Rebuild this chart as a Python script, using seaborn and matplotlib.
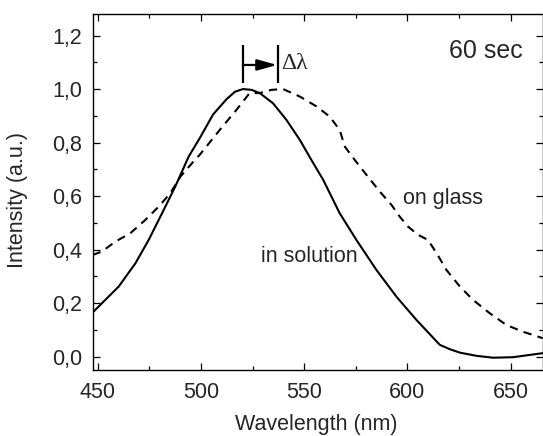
import pandas as pd
import matplotlib
matplotlib.use("Agg")
import matplotlib.pyplot as plt
import seaborn as sns
from matplotlib.ticker import MultipleLocator, FuncFormatter

# === Data ===
sol_wl = [447.2, 452.9, 460.2, 468.3, 474.7, 481.2, 487.6, 494.1, 499.4, 505.9, 512.4,
          516.5, 520.4, 524.5, 528.5, 534.9, 541.4, 547.9, 553.5, 559.2, 567.2, 575.3,
          585, 594.7, 604.4, 615.7, 620.5, 625.4, 633.5, 641.5, 651.2, 665.5]
sol_int = [0.162, 0.206, 0.262, 0.349, 0.436, 0.536, 0.636, 0.748, 0.816, 0.905, 0.962,
           0.99, 1.0, 0.997, 0.985, 0.947, 0.885, 0.81, 0.735, 0.661, 0.536, 0.436,
           0.324, 0.224, 0.137, 0.044, 0.028, 0.015, 0.003, -0.004, -0.002, 0.013]

glass_wl = [447.6, 452.1, 458.6, 465.8, 473.1, 479.6, 485.2, 490.1, 495.7, 499.4, 509.1,
            517.2, 523.6, 528.5, 534.2, 539.8, 547.9, 556, 562.4, 567.2, 569.7, 574.5,
            580.2, 586.6, 592.3, 596.3, 600.3, 605.2, 610, 614.1, 618.9, 625.4, 631.8,
            639.9, 648, 656, 665.5]
glass_int = [0.38, 0.393, 0.43, 0.461, 0.511, 0.561, 0.611, 0.673, 0.723, 0.754, 0.847,
             0.922, 0.985, 0.985, 0.997, 1.0, 0.972, 0.935, 0.897, 0.847, 0.785, 0.735,
             0.679, 0.617, 0.567, 0.523, 0.486, 0.455, 0.436, 0.387, 0.324, 0.262, 0.212,
             0.162, 0.118, 0.093, 0.069]

peak_sol = 520.3
peak_glass = 537.3

# === Setup ===
sns.set_style("ticks")
plt.rcParams["font.family"] = ["Liberation Sans", "DejaVu Sans"]

fig, ax = plt.subplots(figsize=(5.43, 4.36), dpi=100)
fig.subplots_adjust(left=0.1707, right=0.9994, top=0.967, bottom=0.1507)

sol = pd.DataFrame({"wl": sol_wl, "I": sol_int})
glass = pd.DataFrame({"wl": glass_wl, "I": glass_int})
sns.lineplot(data=sol, x="wl", y="I", color="black", lw=1.5, ax=ax)
sns.lineplot(data=glass, x="wl", y="I", color="black", lw=1.5, ax=ax,
             linestyle=(0, (4, 3)))

# shift marker
for p in (peak_sol, peak_glass):
    ax.plot([p, p], [1.022, 1.166], color="black", lw=1.6, solid_capstyle="butt")
ax.annotate("", xy=(peak_glass - 0.4, 1.09), xytext=(peak_sol, 1.09),
            arrowprops=dict(arrowstyle="-|>,head_length=1.0,head_width=0.28",
                            color="black", lw=1.6, mutation_scale=12,
                            shrinkA=0, shrinkB=0))
ax.text(peak_glass + 1.4, 1.097, "Δλ", fontsize=17, va="center", ha="left",
        family=["Liberation Serif", "DejaVu Serif"])

ax.text(656, 1.143, "60 sec", fontsize=18, ha="right", va="center")
ax.text(597.9, 0.592, "on glass", fontsize=15.5, ha="left", va="center")
ax.text(529.3, 0.374, "in solution", fontsize=15.5, ha="left", va="center")

ax.set_xlim(447.6, 665.5)
ax.set_ylim(-0.051, 1.279)
ax.xaxis.set_major_locator(MultipleLocator(50))
ax.xaxis.set_minor_locator(MultipleLocator(25))
ax.yaxis.set_major_locator(MultipleLocator(0.2))
ax.yaxis.set_minor_locator(MultipleLocator(0.1))
ax.yaxis.set_major_formatter(FuncFormatter(lambda v, _: f"{v:.1f}".replace(".", ",")))
ax.tick_params(which="both", direction="in", top=True, right=True, labelsize=15.5,
               width=0.9, color="black")
ax.tick_params(axis="x", which="major", pad=8.5)
ax.tick_params(axis="y", which="major", pad=7.5)
ax.tick_params(which="major", length=4.8)
ax.tick_params(which="minor", length=2.9)
for s in ax.spines.values():
    s.set_linewidth(1.0)
    s.set_color("black")

ax.set_xlabel("Wavelength (nm)", fontsize=15.5)
ax.set_ylabel("Intensity (a.u.)", fontsize=15.5)
ax.xaxis.set_label_coords(0.497, -0.123)
ax.yaxis.set_label_coords(-0.144, 0.478)

fig.savefig("out.png", dpi=100)
